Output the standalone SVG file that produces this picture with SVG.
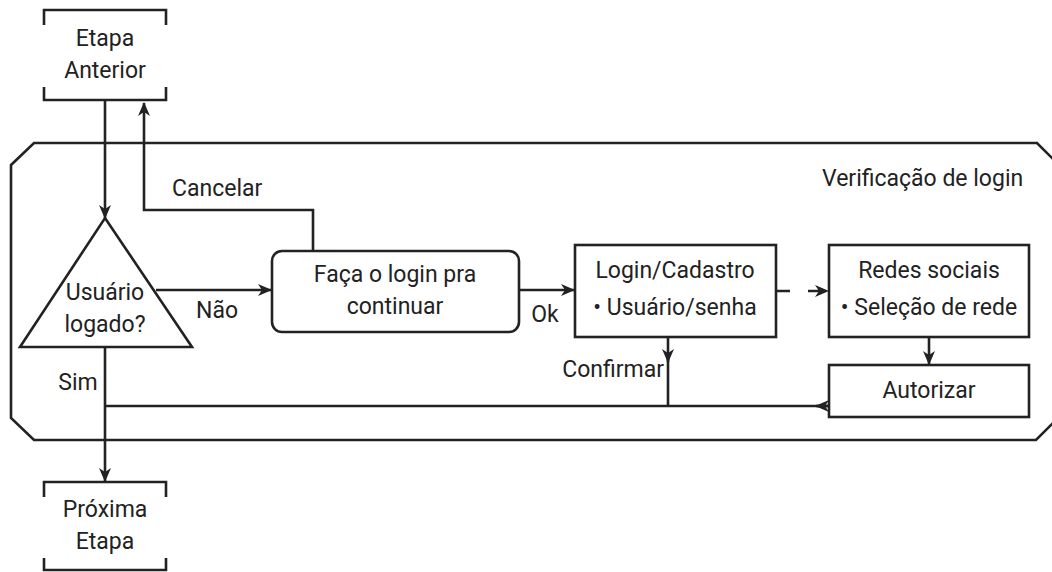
<svg xmlns="http://www.w3.org/2000/svg" width="1052" height="572" viewBox="0 0 1052 572">
<style>
.s{fill:none;stroke:#222;stroke-width:2.6}
.b{fill:#fff;stroke:#222;stroke-width:2.6}
text{font-family:Roboto,"Liberation Sans",sans-serif;font-size:23px;fill:#222}
.m{text-anchor:middle}
.e{text-anchor:end}
</style>
<defs>
<marker id="a" viewBox="0 0 14 12" refX="13" refY="6" markerWidth="14" markerHeight="12" markerUnits="userSpaceOnUse" orient="auto">
<path d="M0,0 L14,6 L0,12 L4,6 Z" fill="#222"/>
</marker>
</defs>
<g id="container">
<path class="s" d="M11,165 L34,143 L1037,143 L1060,166 L1060,416 L1036,440 L34,440 L11,418 Z"/>
<text x="822" y="186">Verificação de login</text>
</g>
<g id="connectors">
<path class="s" d="M105,100 L105,218" marker-end="url(#a)"/>
<path class="s" d="M313,251 L313,210 L144,210 L144,103" marker-end="url(#a)"/>
<path class="s" d="M156,290 L271,290" marker-end="url(#a)"/>
<path class="s" d="M105,347 L105,481" marker-end="url(#a)"/>
<path class="s" d="M519,290 L574,290" marker-end="url(#a)"/>
<path class="s" d="M776,291 L828,291" stroke-dasharray="14 18" marker-end="url(#a)"/>
<path class="s" d="M929,337 L929,364" marker-end="url(#a)"/>
<path class="s" d="M668,337 L668,362" marker-end="url(#a)"/>
<path class="s" d="M668,355 L668,406"/>
<path class="s" d="M829,406 L105,406"/>
<path class="s" d="M829,406 L816,406" marker-end="url(#a)"/>
<text x="172" y="196">Cancelar</text>
<text x="217" y="318" class="m">Não</text>
<text x="78" y="390" class="m">Sim</text>
<text x="545" y="322" class="m">Ok</text>
<text x="664" y="377" class="e">Confirmar</text>
</g>
<g id="etapa-anterior">
<path class="s" d="M44,25 L44,10 L166,10 L166,25 M44,87 L44,100 L166,100 L166,87"/>
<text x="105" y="46" class="m">Etapa</text>
<text x="105" y="78" class="m">Anterior</text>
</g>
<g id="usuario-logado">
<path class="b" d="M105,218 L192,347 L20,347 Z"/>
<text x="105" y="300" class="m">Usuário</text>
<text x="105" y="332" class="m">logado?</text>
</g>
<g id="faca-login">
<rect class="b" x="272" y="251" width="247" height="81" rx="10"/>
<text x="395" y="282" class="m">Faça o login pra</text>
<text x="395" y="314" class="m">continuar</text>
</g>
<g id="login-cadastro">
<rect class="b" x="575" y="245" width="201" height="92"/>
<text x="675" y="278" class="m">Login/Cadastro</text>
<text x="675" y="315" class="m">• Usuário/senha</text>
</g>
<g id="redes-sociais">
<rect class="b" x="829" y="245" width="200" height="92"/>
<text x="929" y="278" class="m">Redes sociais</text>
<text x="929" y="315" class="m">• Seleção de rede</text>
</g>
<g id="autorizar">
<rect class="b" x="829" y="365" width="200" height="52"/>
<text x="929" y="398" class="m">Autorizar</text>
</g>
<g id="proxima-etapa">
<path class="s" d="M44,497 L44,482 L166,482 L166,497 M44,558 L44,570 L166,570 L166,558"/>
<text x="105" y="517" class="m">Próxima</text>
<text x="105" y="549" class="m">Etapa</text>
</g>
</svg>
